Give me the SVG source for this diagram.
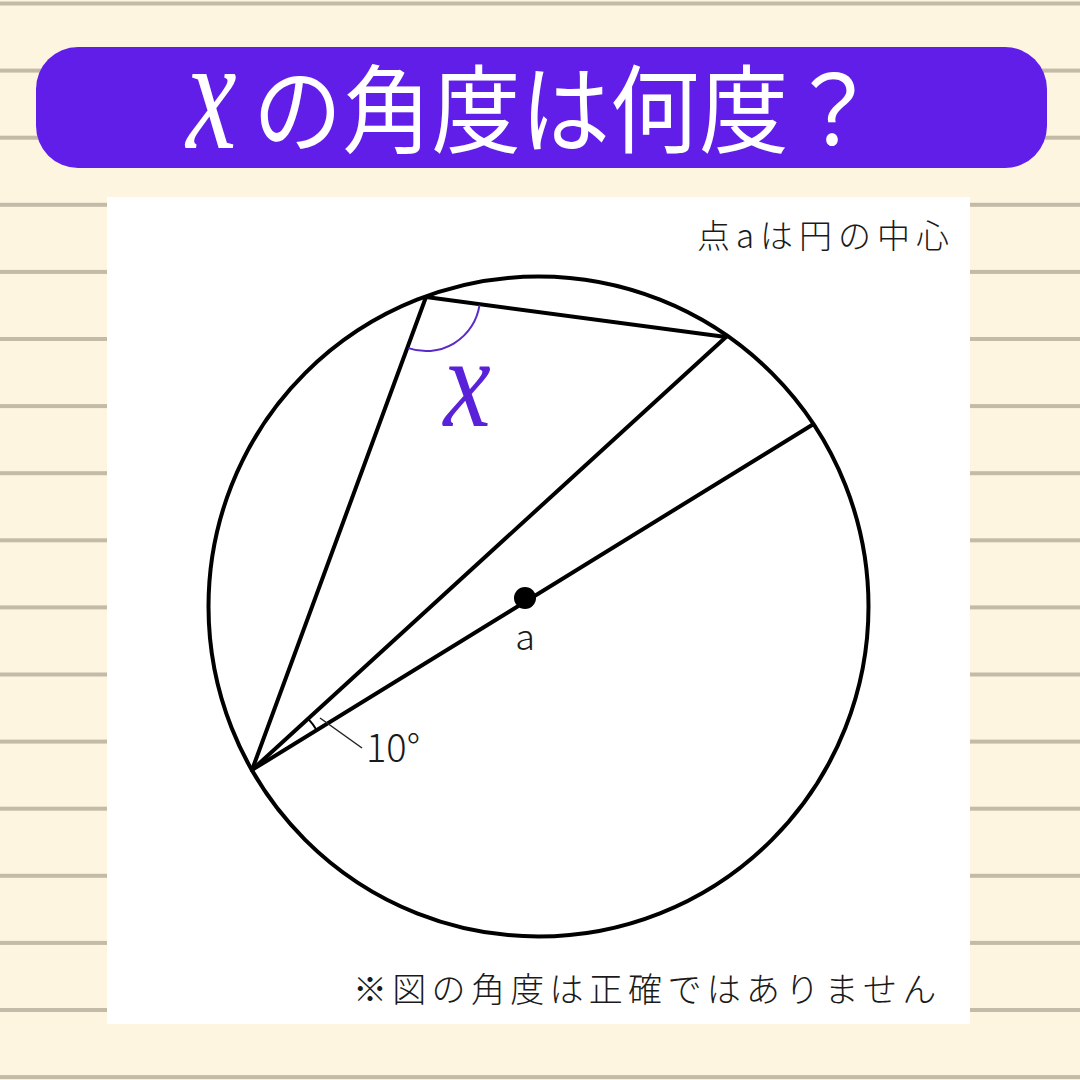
<svg xmlns="http://www.w3.org/2000/svg" width="1080" height="1080" viewBox="0 0 1080 1080">
<style>
.stripe{fill:#c3baa7}
.ln{stroke:#000;stroke-width:4;fill:none;stroke-linecap:round}
.jp{font-family:"Noto Sans CJK JP","Noto Sans",sans-serif;font-weight:300;fill:#1a1a1a}
.var{font-family:"Liberation Serif","DejaVu Serif",serif;font-style:italic}
</style>
<rect width="1080" height="1080" fill="#fdf5e0"/>
<g id="stripes">
<rect class="stripe" x="0" y="1.5" width="1080" height="4"/>
<rect class="stripe" x="0" y="68.6" width="1080" height="4"/>
<rect class="stripe" x="0" y="135.7" width="1080" height="4"/>
<rect class="stripe" x="0" y="202.8" width="1080" height="4"/>
<rect class="stripe" x="0" y="269.9" width="1080" height="4"/>
<rect class="stripe" x="0" y="337" width="1080" height="4"/>
<rect class="stripe" x="0" y="404.1" width="1080" height="4"/>
<rect class="stripe" x="0" y="471.2" width="1080" height="4"/>
<rect class="stripe" x="0" y="538.3" width="1080" height="4"/>
<rect class="stripe" x="0" y="605.4" width="1080" height="4"/>
<rect class="stripe" x="0" y="672.5" width="1080" height="4"/>
<rect class="stripe" x="0" y="739.6" width="1080" height="4"/>
<rect class="stripe" x="0" y="806.7" width="1080" height="4"/>
<rect class="stripe" x="0" y="873.8" width="1080" height="4"/>
<rect class="stripe" x="0" y="940.9" width="1080" height="4"/>
<rect class="stripe" x="0" y="1008" width="1080" height="4"/>
<rect class="stripe" x="0" y="1075.1" width="1080" height="4"/>
</g>
<g id="title">
<rect x="36" y="47" width="1011" height="121" rx="42" ry="42" fill="#611ee9"/>
<text class="var" x="266" y="148" font-size="162" fill="#fff" transform="scale(0.7,1)">x</text>
<text x="272" y="145" font-family="Noto Sans CJK JP,Noto Sans,sans-serif" font-size="96" fill="#fff" transform="scale(0.93,1)">の角度は何度？</text>
</g>
<rect id="panel" x="107" y="197" width="863" height="827" fill="#fff"/>
<g id="circle">
<circle cx="538.5" cy="606.5" r="330" class="ln"/>
</g>
<g id="connectors">
<line class="ln" x1="252" y1="770" x2="426" y2="297"/>
<line class="ln" x1="426" y1="297" x2="726" y2="337"/>
<line class="ln" x1="252" y1="770" x2="726" y2="337"/>
<line class="ln" x1="252" y1="770" x2="812" y2="425"/>
</g>
<g id="center-a">
<circle cx="525" cy="598" r="11" fill="#000"/>
<text class="jp" x="525" y="650" font-size="36" text-anchor="middle">a</text>
</g>
<g id="angle-x">
<path d="M408.4,348.1 A54,54 0 0 0 479.5,305.1" fill="none" stroke="#5a2bc8" stroke-width="2"/>
<text class="var" x="541" y="426" font-size="130" fill="#5a22d8" transform="scale(0.82,1)">x</text>
</g>
<g id="angle-10">
<path d="M308.1,718.7 A76,76 0 0 1 316.7,730.2" fill="none" stroke="#000" stroke-width="2"/>
<line x1="320" y1="718" x2="362" y2="748" stroke="#222" stroke-width="1.5"/>
<text class="jp" x="366" y="762" font-size="38">10°</text>
</g>
<text class="jp" x="697" y="248" font-size="33" letter-spacing="6">点aは円の中心</text>
<text class="jp" x="353" y="1002" font-size="34" letter-spacing="5.3">※図の角度は正確ではありません</text>
</svg>
